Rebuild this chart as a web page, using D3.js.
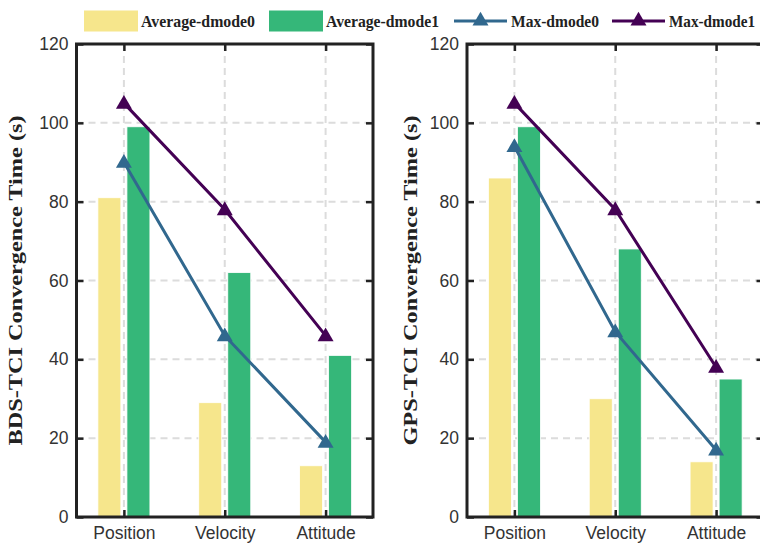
<!DOCTYPE html>
<html>
<head>
<meta charset="utf-8">
<script src="https://cdn.jsdelivr.net/npm/d3@7"></script>
<style>
  html, body { margin: 0; padding: 0; background: #fff; }
  svg { display: block; }
</style>
</head>
<body>
<svg id="chart" width="760" height="547"></svg>
<script>
// Categories and series
const categories = ["Position", "Velocity", "Attitude"];
const seriesNames = ["Average-dmode0", "Average-dmode1", "Max-dmode0", "Max-dmode1"];

// BDS-TCI panel
const bdsAvg0 = [81, 29, 13];
const bdsAvg1 = [99, 62, 41];
const bdsMax0 = [90, 46, 19];
const bdsMax1 = [105, 78, 46];

// GPS-TCI panel
const gpsAvg0 = [86, 30, 14];
const gpsAvg1 = [99, 68, 35];
const gpsMax0 = [94, 47, 17];
const gpsMax1 = [105, 78, 38];

const yTicks = [0, 20, 40, 60, 80, 100, 120];

const colors = {
  avg0: "#f6e68c",
  avg1: "#35b779",
  max0: "#31688e",
  max1: "#440154"
};

const svg = d3.select("#chart");
const tri = d3.symbol().type(d3.symbolTriangle).size(110);
const serif = "'Liberation Serif', 'Times New Roman', serif";

function panel(left, title, avg0, avg1, max0, max1, titleX) {
  const top = 44, bottom = 517, width = 296.5;
  const x = d3.scaleLinear().domain([-0.47, 2.47]).range([left, left + width]);
  const y = d3.scaleLinear().domain([0, 120]).range([bottom, top]);
  const g = svg.append("g");
  const idx = categories.map((c, i) => i);

  // dashed grid
  g.append("g").selectAll("line").data(yTicks.slice(1, -1)).join("line")
    .attr("x1", x.range()[0]).attr("x2", x.range()[1])
    .attr("y1", d => y(d)).attr("y2", d => y(d))
    .attr("stroke", "#dcdcdc").attr("stroke-width", 2).attr("stroke-dasharray", "7,5");
  g.append("g").selectAll("line").data(idx).join("line")
    .attr("x1", d => x(d)).attr("x2", d => x(d))
    .attr("y1", top).attr("y2", bottom)
    .attr("stroke", "#dcdcdc").attr("stroke-width", 2).attr("stroke-dasharray", "7,5");

  // bars
  const off = 0.144, bw = 0.228;
  const bar = (vals, dx, color) => g.append("g").selectAll("rect").data(vals).join("rect")
    .attr("x", (d, i) => x(i + dx - bw / 2))
    .attr("width", x(bw) - x(0))
    .attr("y", d => y(d))
    .attr("height", d => y(0) - y(d))
    .attr("fill", color)
    .attr("stroke", "#fff").attr("stroke-width", 0.8);
  bar(avg0, -off, colors.avg0);
  bar(avg1, off, colors.avg1);

  // lines with triangle markers
  const line = d3.line().x((d, i) => x(i)).y(d => y(d));
  const series = (vals, color) => {
    g.append("path").datum(vals).attr("d", line)
      .attr("fill", "none").attr("stroke", color).attr("stroke-width", 3);
    g.append("g").selectAll("path").data(vals).join("path")
      .attr("d", tri)
      .attr("transform", (d, i) => `translate(${x(i)},${y(d) + 1})`)
      .attr("fill", color);
  };
  series(max0, colors.max0);
  series(max1, colors.max1);

  // axes: ticks pointing inward on all four sides
  const ax = g.append("g");
  const yLeft = d3.axisLeft(y).tickValues(yTicks).tickSize(-7).tickPadding(8);
  const yRight = d3.axisRight(y).tickValues(yTicks).tickSize(-7).tickFormat("");
  const xBottom = d3.axisBottom(x).tickValues(idx).tickSize(-7).tickPadding(10).tickFormat(i => categories[i]);
  const xTop = d3.axisTop(x).tickValues(idx).tickSize(-7).tickFormat("");
  ax.append("g").attr("transform", `translate(${left},0)`).call(yLeft);
  ax.append("g").attr("transform", `translate(${left + width},0)`).call(yRight);
  ax.append("g").attr("transform", `translate(0,${bottom})`).call(xBottom);
  ax.append("g").attr("transform", `translate(0,${top})`).call(xTop);
  ax.selectAll(".domain").remove();
  ax.selectAll(".tick line").attr("stroke", "#222").attr("stroke-width", 2.5);
  ax.selectAll(".tick text").attr("fill", "#333")
    .style("font-family", "'Liberation Sans', Arial, sans-serif").style("font-size", "17.5px");
  ax.append("rect").attr("x", left).attr("y", top).attr("width", width).attr("height", bottom - top)
    .attr("fill", "none").attr("stroke", "#222").attr("stroke-width", 3);

  // y title
  svg.append("text")
    .attr("transform", `translate(${titleX},${(top + bottom) / 2}) rotate(-90)`)
    .attr("text-anchor", "middle")
    .attr("textLength", 330).attr("lengthAdjust", "spacingAndGlyphs")
    .style("font-family", serif)
    .style("font-weight", "bold").style("font-size", "18px")
    .attr("fill", "#222")
    .text(title);
}

panel(76.5, "BDS-TCI Convergence Time (s)", bdsAvg0, bdsAvg1, bdsMax0, bdsMax1, 22);
panel(467, "GPS-TCI Convergence Time (s)", gpsAvg0, gpsAvg1, gpsMax0, gpsMax1, 417);

// legend
const legend = svg.append("g").style("font-family", serif)
  .style("font-weight", "bold").style("font-size", "15.5px");
const legendItems = [
  { name: seriesNames[0], kind: "bar", color: colors.avg0, x: 84, len: 114 },
  { name: seriesNames[1], kind: "bar", color: colors.avg1, x: 269, len: 113 },
  { name: seriesNames[2], kind: "line", color: colors.max0, x: 454, len: 88 },
  { name: seriesNames[3], kind: "line", color: colors.max1, x: 612, len: 86 }
];
legendItems.forEach(it => {
  const g = legend.append("g").attr("transform", `translate(${it.x},21)`);
  if (it.kind === "bar") {
    g.append("rect").attr("x", 0).attr("y", -10.5).attr("width", 54).attr("height", 21).attr("fill", it.color);
  } else {
    g.append("line").attr("x1", 0).attr("x2", 53).attr("y1", 0).attr("y2", 0)
      .attr("stroke", it.color).attr("stroke-width", 3);
    g.append("path").attr("d", tri).attr("transform", "translate(26.5,0)").attr("fill", it.color);
  }
  g.append("text").attr("x", 57).attr("y", 0)
    .attr("transform", "translate(0,6) scale(1,1.13)")
    .attr("textLength", it.len).attr("lengthAdjust", "spacingAndGlyphs")
    .attr("fill", "#222").text(it.name);
});
</script>
</body>
</html>
